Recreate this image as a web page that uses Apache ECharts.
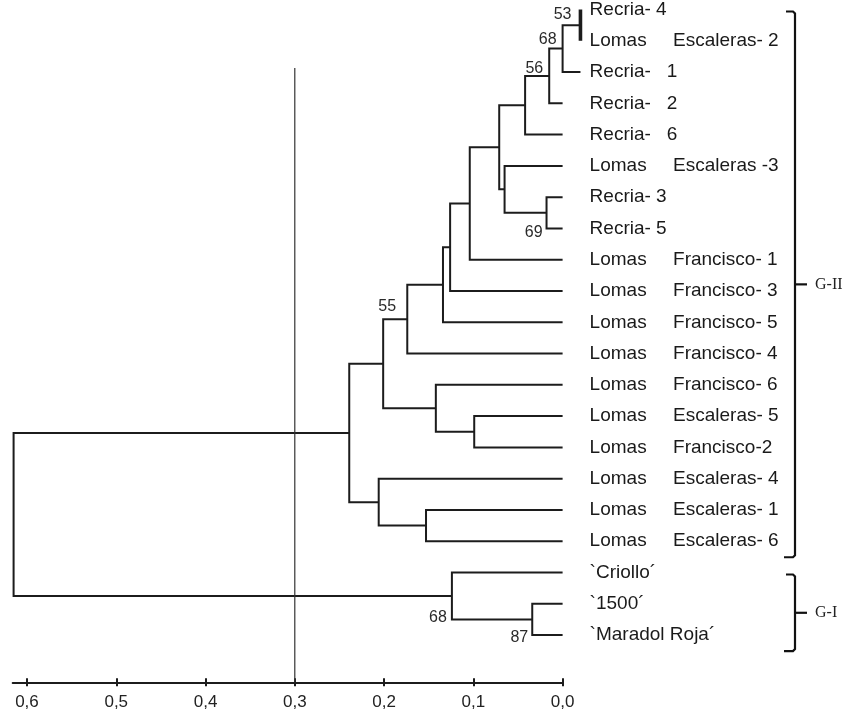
<!DOCTYPE html>
<html><head><meta charset="utf-8">
<script src="https://cdn.jsdelivr.net/npm/echarts@6/dist/echarts.min.js"></script>
<style>html,body{margin:0;padding:0;background:#fff}#c{width:852px;height:713px}</style>
</head><body><div id="c"></div>
<script>
// ---------------- DATA ----------------
const leaves = [
  'Recria- 4',
  'Lomas     Escaleras- 2',
  'Recria-   1',
  'Recria-   2',
  'Recria-   6',
  'Lomas     Escaleras -3',
  'Recria- 3',
  'Recria- 5',
  'Lomas     Francisco- 1',
  'Lomas     Francisco- 3',
  'Lomas     Francisco- 5',
  'Lomas     Francisco- 4',
  'Lomas     Francisco- 6',
  'Lomas     Escaleras- 5',
  'Lomas     Francisco-2',
  'Lomas     Escaleras- 4',
  'Lomas     Escaleras- 1',
  'Lomas     Escaleras- 6',
  '`Criollo\u00b4',
  '`1500\u00b4',
  '`Maradol Roja\u00b4'
];
// distance at which each leaf branch starts (first three drawn past 0 in the source figure)
const leafTip = [-0.02, -0.02, -0.02, 0, 0, 0, 0, 0, 0, 0, 0, 0, 0, 0, 0, 0, 0, 0, 0, 0, 0];

// merges: left child, right child (leaf index or node id), merge distance, bootstrap support
const nodeIds     = ['n53', 'n68a', 'n56', 'n4', 'n69', 'nB', 'nA', 'nC', 'nD', 'nE', 'nF', 'nH', 'nG', 'n55', 'nJ', 'nI', 'nGII', 'n87', 'nGI', 'root'];
const nodeLeft    = [0, 'n53', 'n68a', 'n56', 6, 5, 'n4', 'nA', 'nC', 'nD', 'nE', 13, 12, 'nF', 16, 15, 'n55', 19, 18, 'nGII'];
const nodeRight   = [1, 2, 3, 4, 7, 'n69', 'nB', 8, 9, 10, 11, 14, 'nH', 'nG', 17, 'nJ', 'nI', 20, 'n87', 'nGI'];
const nodeHeight  = [-0.02, 0.0, 0.015, 0.042, 0.018, 0.065, 0.071, 0.104, 0.126, 0.134, 0.174, 0.099, 0.142, 0.201, 0.153, 0.206, 0.239, 0.034, 0.124, 0.615];
const nodeSupport = [53, 68, 56, null, 69, null, null, null, null, null, null, null, null, 55, null, null, null, 87, 68, null];

const xTicks = [0, 0.1, 0.2, 0.3, 0.4, 0.5, 0.6];
const cutoff = 0.3;

const groupNames = ['G-II', 'G-I'];
const groupFirst = [0, 18];
const groupLast  = [17, 20];

// ---------------- STYLE ----------------
const INK = '#1c1c1c';
const SANS = 'Liberation Sans, Arial, sans-serif';
const SERIF = 'Liberation Serif, Times New Roman, serif';
const GRID = {left: 12.7, right: 289.4, top: 9.4, bottom: 30.7};
const Y_MAX = 21.51;
const CUT_TOP_ROW = 1.87;
const thick = {n53: 3.6};
const supportPlace = {
  n53:  {anchor: 'mid', dx: -9, dy: -11, align: 'right'},
  n68a: {anchor: 'mid', dx: -6, dy: -9,  align: 'right'},
  n56:  {anchor: 'mid', dx: -6, dy: -7,  align: 'right'},
  n69:  {anchor: 'bot', dx: -4, dy: 4,   align: 'right'},
  n55:  {anchor: 'top', dx: 4,  dy: -13, align: 'center'},
  nGI:  {anchor: 'bot', dx: -5, dy: -2,  align: 'right'},
  n87:  {anchor: 'bot', dx: -4, dy: 3,   align: 'right'}
};

// ---------------- BUILD TREE ----------------
const pos = {};
leaves.forEach((n, i) => { pos[i] = {d: leafTip[i], r: i}; });
const segs = [];
const supports = [];
nodeIds.forEach((id, k) => {
  const a = pos[nodeLeft[k]], b = pos[nodeRight[k]], h = nodeHeight[k];
  segs.push({pts: [[a.d, a.r], [h, a.r], [h, b.r], [b.d, b.r]], w: thick[id] || 2, color: INK});
  pos[id] = {d: h, r: (a.r + b.r) / 2, top: Math.min(a.r, b.r), bot: Math.max(a.r, b.r)};
  if (nodeSupport[k] != null) supports.push({id, text: String(nodeSupport[k]), node: pos[id]});
});
segs.push({pts: [[cutoff, CUT_TOP_ROW], [cutoff, Y_MAX]], w: 1.2, color: '#333'});

const chart = echarts.init(document.getElementById('c'), null, {renderer: 'canvas'});
const tickFmt = v => v.toFixed(1).replace('.', ',');

const option = {
  animation: false,
  backgroundColor: '#fff',
  grid: Object.assign({containLabel: false}, GRID),
  xAxis: [{
    type: 'value', position: 'bottom', min: 0, max: 0.616, inverse: true,
    splitLine: {show: false},
    axisLine: {show: true, onZero: false, lineStyle: {color: INK, width: 2}},
    axisTick: {show: true, customValues: xTicks, length: 4, lineStyle: {color: INK, width: 2}},
    axisLabel: {customValues: xTicks, formatter: tickFmt, fontFamily: SANS, fontSize: 17, color: '#222', margin: 12}
  }, {
    // upper half of the crossing ticks
    type: 'value', position: 'bottom', min: 0, max: 0.616, inverse: true, gridIndex: 0,
    splitLine: {show: false},
    axisLine: {show: false, onZero: false},
    axisTick: {show: true, inside: true, customValues: xTicks, length: 4, lineStyle: {color: INK, width: 2}},
    axisLabel: {show: false}
  }],
  yAxis: {
    type: 'value', position: 'right', min: 0, max: Y_MAX, inverse: true,
    splitLine: {show: false}, axisLine: {show: false, onZero: false}, axisTick: {show: false},
    axisLabel: {
      customValues: leaves.map((_, i) => i),
      formatter: v => leaves[Math.round(v)],
      margin: 27, fontFamily: SANS, fontSize: 19, color: '#1a1a1a', padding: [8, 0, 0, 0]
    }
  },
  series: [{
    type: 'custom', coordinateSystem: 'cartesian2d', xAxisIndex: 0, yAxisIndex: 0,
    silent: true, clip: false,
    data: segs.map(s => [s.pts[1][0], s.pts[1][1]]),
    renderItem: (params, api) => {
      const s = segs[params.dataIndex];
      return {
        type: 'polyline',
        shape: {points: s.pts.map(p => api.coord(p))},
        style: {stroke: s.color, lineWidth: s.w, fill: null, lineJoin: 'miter', lineCap: 'butt'}
      };
    }
  }, {
    type: 'custom', coordinateSystem: 'cartesian2d', xAxisIndex: 0, yAxisIndex: 0, silent: true, clip: false,
    data: supports.map(s => [s.node.d, s.node.r]),
    renderItem: (params, api) => {
      const s = supports[params.dataIndex];
      const p = supportPlace[s.id];
      const row = p.anchor === 'top' ? s.node.top : p.anchor === 'bot' ? s.node.bot : s.node.r;
      const c = api.coord([s.node.d, row]);
      return {
        type: 'text',
        style: {
          text: s.text, x: c[0] + p.dx, y: c[1] + p.dy, align: p.align, verticalAlign: 'middle',
          font: '16px ' + SANS, fill: '#2a2a2a'
        }
      };
    }
  }, {
    type: 'custom', coordinateSystem: 'cartesian2d', xAxisIndex: 0, yAxisIndex: 0, silent: true, clip: false,
    data: groupNames.map((g, i) => [0, groupFirst[i]]),
    renderItem: (params, api) => {
      const i = params.dataIndex;
      const x = api.coord([0, 0])[0] + 232.4;
      const top = api.coord([0, groupFirst[i]])[1] + 2;
      const bot = api.coord([0, groupLast[i]])[1] + 16;
      const mid = (top + bot) / 2;
      return {
        type: 'group',
        children: [{
          type: 'polyline',
          shape: {points: [[x - 9, top], [x - 2, top], [x, top + 2], [x, bot - 2], [x - 2, bot], [x - 11, bot]]},
          style: {stroke: '#111', lineWidth: 2.2, fill: null}
        }, {
          type: 'line',
          shape: {x1: x, y1: mid, x2: x + 12, y2: mid},
          style: {stroke: '#111', lineWidth: 2.2}
        }, {
          type: 'text',
          style: {text: groupNames[i], x: x + 20, y: mid, verticalAlign: 'middle', align: 'left',
            font: '16px ' + SERIF, fill: '#222'}
        }]
      };
    }
  }]
};
chart.setOption(option);
</script>
</body></html>
